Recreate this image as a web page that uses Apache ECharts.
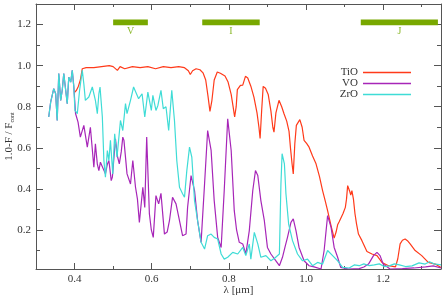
<!DOCTYPE html>
<html>
<head>
<meta charset="utf-8">
<script src="https://cdn.jsdelivr.net/npm/echarts@6/dist/echarts.min.js"></script>
<style>html,body{margin:0;padding:0;background:#fff}#c{width:446px;height:300px}</style>
</head>
<body>
<div id="c"></div>
<script>
const seriesNames = ['TiO', 'VO', 'ZrO'];
const xMajorTicks = [0.4, 0.6, 0.8, 1.0, 1.2];
const xMinorTicks = [0.5, 0.7, 0.9, 1.1, 1.3];
const yMajorTicks = [0.2, 0.4, 0.6, 0.8, 1.0, 1.2];
const yMinorTicks = [0.1, 0.3, 0.5, 0.7, 0.9, 1.1];
const bandNames = ['V', 'I', 'J'];
const bandStart = [0.5, 0.731, 1.142];
const bandEnd = [0.59, 0.88, 1.342];

const tioSpectrum = [[0.400,0.87],[0.405,0.88],[0.410,0.90],[0.415,0.93],[0.420,0.985],[0.43,0.99],[0.45,0.99],[0.47,0.995],[0.49,1.0],[0.50,0.995],[0.505,0.99],[0.511,0.977],[0.518,0.995],[0.53,0.985],[0.55,0.995],[0.57,0.99],[0.59,0.995],[0.61,0.985],[0.63,0.995],[0.65,0.99],[0.67,0.995],[0.685,0.99],[0.695,0.975],[0.700,0.957],[0.706,0.975],[0.715,0.985],[0.725,0.98],[0.733,0.965],[0.740,0.93],[0.746,0.85],[0.751,0.777],[0.756,0.83],[0.762,0.93],[0.770,0.969],[0.778,0.963],[0.783,0.958],[0.790,0.95],[0.798,0.92],[0.806,0.86],[0.811,0.80],[0.815,0.75],[0.819,0.80],[0.822,0.883],[0.830,0.904],[0.836,0.905],[0.843,0.948],[0.849,0.94],[0.857,0.90],[0.865,0.847],[0.873,0.77],[0.878,0.70],[0.881,0.645],[0.885,0.78],[0.889,0.899],[0.895,0.89],[0.902,0.86],[0.909,0.78],[0.914,0.70],[0.917,0.676],[0.922,0.77],[0.930,0.831],[0.937,0.80],[0.943,0.766],[0.950,0.73],[0.956,0.68],[0.960,0.595],[0.964,0.52],[0.967,0.473],[0.971,0.62],[0.975,0.709],[0.984,0.737],[0.990,0.70],[0.995,0.636],[1.002,0.62],[1.008,0.603],[1.017,0.56],[1.026,0.522],[1.035,0.46],[1.043,0.392],[1.05,0.34],[1.056,0.294],[1.065,0.22],[1.073,0.16],[1.078,0.19],[1.082,0.225],[1.086,0.24],[1.090,0.245],[1.096,0.28],[1.102,0.31],[1.105,0.35],[1.108,0.416],[1.113,0.39],[1.116,0.37],[1.119,0.392],[1.123,0.35],[1.127,0.279],[1.131,0.23],[1.136,0.18],[1.145,0.148],[1.158,0.095],[1.171,0.083],[1.184,0.075],[1.197,0.042],[1.214,0.026],[1.232,0.02],[1.238,0.06],[1.244,0.132],[1.250,0.15],[1.257,0.156],[1.263,0.148],[1.270,0.132],[1.283,0.1],[1.300,0.075],[1.317,0.042],[1.335,0.034],[1.35,0.017]];

const voSpectrum = [[0.333,0.75],[0.338,0.822],[0.342,0.815],[0.346,0.888],[0.351,0.863],[0.355,0.733],[0.359,0.961],[0.364,0.831],[0.368,0.88],[0.372,0.961],[0.377,0.88],[0.381,0.815],[0.385,0.944],[0.39,0.92],[0.394,0.977],[0.398,0.90],[0.4025,0.767],[0.409,0.725],[0.415,0.652],[0.424,0.709],[0.433,0.603],[0.441,0.70],[0.45,0.505],[0.454,0.619],[0.459,0.52],[0.463,0.489],[0.467,0.53],[0.472,0.538],[0.48,0.473],[0.485,0.52],[0.489,0.538],[0.495,0.44],[0.498,0.457],[0.506,0.644],[0.511,0.56],[0.516,0.522],[0.521,0.58],[0.525,0.652],[0.528,0.636],[0.536,0.473],[0.545,0.424],[0.551,0.538],[0.558,0.408],[0.563,0.35],[0.568,0.237],[0.577,0.408],[0.582,0.31],[0.587,0.652],[0.594,0.278],[0.599,0.2],[0.604,0.164],[0.611,0.367],[0.618,0.327],[0.624,0.378],[0.633,0.18],[0.64,0.19],[0.646,0.245],[0.654,0.359],[0.663,0.327],[0.672,0.245],[0.68,0.172],[0.689,0.18],[0.693,0.31],[0.702,0.465],[0.711,0.392],[0.719,0.245],[0.728,0.14],[0.737,0.424],[0.745,0.684],[0.754,0.587],[0.762,0.343],[0.771,0.164],[0.78,0.115],[0.788,0.392],[0.797,0.741],[0.806,0.587],[0.814,0.294],[0.82,0.2],[0.827,0.14],[0.836,0.132],[0.844,0.083],[0.853,0.197],[0.862,0.392],[0.869,0.489],[0.875,0.465],[0.883,0.343],[0.892,0.245],[0.9,0.115],[0.909,0.083],[0.922,0.05],[0.931,0.026],[0.939,0.067],[0.946,0.12],[0.952,0.164],[0.961,0.237],[0.967,0.254],[0.974,0.197],[0.982,0.115],[0.995,0.05],[1.008,0.026],[1.021,0.02],[1.039,0.01],[1.047,0.1],[1.056,0.27],[1.065,0.213],[1.073,0.115],[1.082,0.067],[1.09,0.018],[1.11,0.01],[1.138,0.012],[1.15,0.02],[1.162,0.034],[1.175,0.075],[1.184,0.091],[1.192,0.075],[1.2,0.034],[1.218,0.01],[1.25,0.012],[1.28,0.015],[1.31,0.02],[1.33,0.025],[1.35,0.015]];

const zroSpectrum = [[0.333,0.75],[0.338,0.822],[0.342,0.815],[0.346,0.888],[0.351,0.863],[0.355,0.733],[0.359,0.961],[0.364,0.831],[0.368,0.88],[0.372,0.961],[0.377,0.88],[0.381,0.815],[0.385,0.944],[0.39,0.92],[0.394,0.977],[0.398,0.896],[0.401,0.782],[0.407,0.766],[0.413,0.88],[0.42,0.977],[0.424,0.912],[0.428,0.831],[0.437,0.847],[0.446,0.896],[0.454,0.831],[0.459,0.766],[0.463,0.863],[0.466,0.896],[0.472,0.75],[0.476,0.538],[0.48,0.457],[0.485,0.587],[0.489,0.538],[0.493,0.636],[0.499,0.473],[0.504,0.668],[0.51,0.554],[0.519,0.733],[0.525,0.684],[0.532,0.815],[0.536,0.766],[0.545,0.831],[0.553,0.896],[0.558,0.888],[0.566,0.839],[0.575,0.863],[0.582,0.75],[0.586,0.741],[0.59,0.871],[0.599,0.782],[0.603,0.855],[0.611,0.782],[0.616,0.806],[0.624,0.88],[0.63,0.79],[0.637,0.80],[0.644,0.684],[0.652,0.88],[0.659,0.733],[0.665,0.538],[0.672,0.408],[0.68,0.376],[0.685,0.359],[0.691,0.489],[0.698,0.603],[0.704,0.554],[0.711,0.343],[0.719,0.245],[0.728,0.14],[0.737,0.107],[0.745,0.172],[0.754,0.18],[0.762,0.164],[0.771,0.156],[0.78,0.083],[0.788,0.058],[0.797,0.067],[0.81,0.091],[0.823,0.083],[0.836,0.115],[0.844,0.075],[0.853,0.132],[0.857,0.058],[0.866,0.188],[0.875,0.132],[0.883,0.067],[0.896,0.075],[0.909,0.05],[0.92,0.065],[0.931,0.083],[0.935,0.424],[0.938,0.571],[0.944,0.522],[0.948,0.376],[0.955,0.229],[0.965,0.148],[0.978,0.083],[0.991,0.05],[1.004,0.058],[1.017,0.026],[1.03,0.042],[1.043,0.034],[1.056,0.1],[1.069,0.075],[1.082,0.05],[1.095,0.018],[1.112,0.015],[1.125,0.03],[1.138,0.026],[1.15,0.035],[1.164,0.026],[1.177,0.03],[1.19,0.035],[1.203,0.022],[1.216,0.025],[1.229,0.035],[1.242,0.03],[1.258,0.022],[1.275,0.025],[1.293,0.04],[1.309,0.034],[1.32,0.045],[1.332,0.035],[1.35,0.03]];

const colors = ['#ff3a1a', '#a726b8', '#3fdcd6'];
const FONT = 'Liberation Serif';
const X_MIN = 0.3, X_MAX = 1.35, Y_MIN = 0.01, Y_MAX = 1.3;
const gridRect = { left: 36, right: 5, top: 4, bottom: 31, outerBoundsMode: 'none', containLabel: false };
const axisColor = '#555';

function xAxisDef(grid, pos, ticks, len, showLabels, showLine) {
  return {
    type: 'value', gridIndex: grid, position: pos, min: X_MIN, max: X_MAX,
    splitLine: { show: false },
    axisLine: { show: showLine, lineStyle: { color: axisColor, width: 1 } },
    axisTick: { show: true, inside: true, length: len, customValues: ticks, lineStyle: { color: axisColor } },
    axisLabel: showLabels ? { show: true, customValues: ticks, formatter: v => v.toFixed(1), fontFamily: FONT, fontSize: 11, color: '#333', margin: 5 } : { show: false },
    name: (showLabels ? 'λ [μm]' : ''), nameLocation: 'middle', nameGap: 16, nameMoveOverlap: false,
    nameTextStyle: { fontFamily: FONT, fontSize: 11, color: '#333' }
  };
}
function yAxisDef(grid, pos, ticks, len, showLabels, showLine) {
  return {
    type: 'value', gridIndex: grid, position: pos, min: Y_MIN, max: Y_MAX,
    splitLine: { show: false },
    axisLine: { show: showLine, lineStyle: { color: axisColor, width: 1 } },
    axisTick: { show: true, inside: true, length: len, customValues: ticks, lineStyle: { color: axisColor } },
    axisLabel: showLabels ? { show: true, customValues: ticks, formatter: v => v.toFixed(1), fontFamily: FONT, fontSize: 11, color: '#333', margin: 5 } : { show: false },
    name: (showLabels ? '1.0-F / F{s|cont}' : ''), nameLocation: 'middle', nameGap: 21, nameRotate: 90, nameMoveOverlap: false,
    nameTextStyle: { fontFamily: FONT, fontSize: 11, color: '#333',
      rich: { s: { fontFamily: FONT, fontSize: 6, color: '#333', padding: [5, 0, 0, 0] } } }
  };
}

const chart = echarts.init(document.getElementById('c'), null, { renderer: 'canvas' });

const lineSeries = [tioSpectrum, voSpectrum, zroSpectrum].map((d, i) => ({
  name: seriesNames[i], type: 'line', xAxisIndex: 0, yAxisIndex: 0,
  data: d, showSymbol: false, symbol: 'none', smooth: false,
  lineStyle: { color: colors[i], width: 1.2 }, itemStyle: { color: colors[i] },
  animation: false, z: 3 + i
}));

const bandData = bandNames.map((n, i) => [bandStart[i], bandEnd[i], n]);

const bandSeries = {
  type: 'custom', xAxisIndex: 0, yAxisIndex: 0, animation: false, silent: true,
  data: bandData,
  encode: { x: [0, 1] },
  renderItem: function (params, api) {
    const p0 = api.coord([api.value(0), 1.224]);
    const p1 = api.coord([api.value(1), 1.197]);
    const mid = api.coord([(api.value(0) + api.value(1)) / 2, 1.165]);
    return {
      type: 'group',
      children: [
        { type: 'rect', shape: { x: p0[0], y: p0[1], width: p1[0] - p0[0], height: p1[1] - p0[1] },
          style: { fill: '#78a800' } },
        { type: 'text', x: mid[0], y: mid[1],
          style: { text: bandData[params.dataIndex][2], fill: '#8bb82c', font: '10px "Liberation Serif"', align: 'center', verticalAlign: 'middle' } }
      ]
    };
  }
};

chart.setOption({
  animation: false,
  backgroundColor: '#fff',
  grid: [Object.assign({}, gridRect), Object.assign({}, gridRect)],
  xAxis: [
    xAxisDef(0, 'bottom', xMajorTicks, 6, true, true),
    xAxisDef(0, 'top', xMajorTicks, 6, false, true),
    xAxisDef(1, 'bottom', xMinorTicks, 3, false, false),
    xAxisDef(1, 'top', xMinorTicks, 3, false, false)
  ],
  yAxis: [
    yAxisDef(0, 'left', yMajorTicks, 7, true, true),
    yAxisDef(0, 'right', yMajorTicks, 7, false, true),
    yAxisDef(1, 'left', yMinorTicks, 4, false, false),
    yAxisDef(1, 'right', yMinorTicks, 4, false, false)
  ],
  legend: {
    data: seriesNames.map(n => ({ name: n, icon: 'rect' })), orient: 'vertical', right: 35, top: 67, align: 'right',
    itemWidth: 48, itemHeight: 1.4, itemGap: 0, padding: 0,
    textStyle: { fontFamily: FONT, fontSize: 11, color: '#333', lineHeight: 10 }
  },
  series: lineSeries.concat([bandSeries])
});
</script>
</body>
</html>
